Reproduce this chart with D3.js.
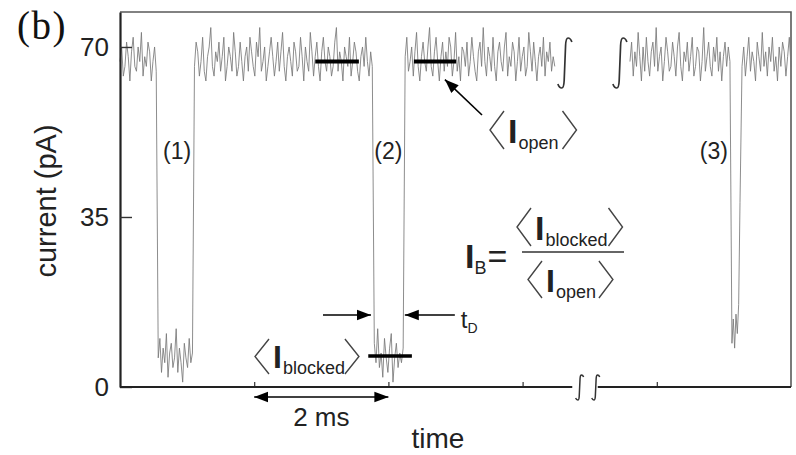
<!DOCTYPE html>
<html><head><meta charset="utf-8">
<script src="https://cdn.jsdelivr.net/npm/d3@7"></script>
<style>body{margin:0;background:#fff}svg{display:block}</style>
</head><body>
<svg id="chart" width="796" height="455"></svg>
<script>
// ---------- data ----------
const yTicks = [0, 35, 70];
const xTicks = [2, 4, 6, 8];            // ms
const yMax = 77.2;                      // pA
const tMax = 10;                        // ms
const openLevel = 67.0;                 // <I_open>
const blockedLevel = 6.4;               // <I_blocked>
const eventLabels = ["(1)", "(2)", "(3)"];
const eventLabelTimes = [0.85, 4.0, 8.85];
const eventLabelCurrent = 47;
// time spans [start, end] (ms) of the recorded trace pieces, before and after the break
const spansBefore = [[0.00, 0.54], [0.57, 1.08], [1.11, 3.76], [3.79, 4.22], [4.25, 6.48]];
const spansAfter = [[7.60, 9.09], [9.12, 9.24], [9.27, 10.0]];
const breakTimes = [6.63, 7.45];        // trace break marks
const axisBreak = [6.74, 7.12];         // x-axis gap
const axisBreakMarks = [6.85, 7.09];
const open1 = [67,70,64,66,71,68,63,69,72,66,65,70,67,73,64,68,66,71,69,63,67,70,65];
const blocked1 = [6,10,3,8,5,11,2,7,9,4,6,12,3,8,5,1,9,6,4,10,5,7];
const open2 = [66,71,69,64,67,72,65,63,68,70,74,66,64,69,67,71,65,68,72,63,
  66,70,68,65,73,69,64,66,71,67,63,68,70,65,72,69,66,64,71,68,
  74,65,67,70,63,66,69,72,68,64,67,71,65,69,73,66,63,68,70,67,
  64,71,69,65,66,72,68,63,70,67,65,73,69,64,68,71,66,63,69,72,
  67,65,70,68,64,66,71,74,65,69,67,63,70,68,66,72,64,67,71,69,
  65,63,68,70,66,72,67,64,69,66];
const blocked2 = [9,5,12,4,7,2,10,6,3,8,11,1,6,9,4,7,5,8];
const open3 = [68,72,65,67,70,64,69,73,66,63,68,71,67,65,70,74,66,64,69,72,
  67,63,68,71,65,69,66,72,70,64,67,73,65,68,63,70,69,66,71,64,
  67,72,68,65,63,69,71,66,74,67,64,70,68,65,72,66,63,69,71,67,
  65,70,73,64,68,66,71,69,63,67,72,65,68,70,64,66,73,69,65,71,
  67,63,68,70,66,72,64,69,67,71,65,68,66];
const open4 = [67,71,64,69,66,73,68,63,70,65,72,67,64,69,71,66,74,65,68,70,
  63,67,72,69,65,66,71,68,64,70,73,66,63,69,67,71,65,68,72,64,
  66,70,69,63,67,74,65,68,71,66,64,70,67,72,65,69,63,68,71,66,
  70,67];
const event3 = [9,14,8,15,11,17,38];
const open5 = [66,70,64,68,72,65,69,67,63,71,68,65,73,66,69,64,70,67,72,65,68,63,70,66,71,69,64,68,72,66];
const openBars = [[2.91, 3.56], [4.38, 5.01]];
const blockedBar = [3.70, 4.35];
const event2Span = [3.77, 4.23];
const scaleBar = [2, 4];

// ---------- drawing ----------
const svg = d3.select("#chart");
const font = "'Liberation Sans', Arial, Helvetica, sans-serif";
const x = d3.scaleLinear().domain([0, tMax]).range([120, 791]);
const y = d3.scaleLinear().domain([0, yMax]).range([387, 12]);

function build(spans, arrays) {
  const pts = [];
  spans.forEach(([a, b], k) => {
    const v = arrays[k], n = v.length;
    v.forEach((c, i) => pts.push([n > 1 ? a + (b - a) * i / (n - 1) : a, c]));
  });
  return pts;
}
const trace1 = build(spansBefore, [open1, blocked1, open2, blocked2, open3]);
const trace2 = build(spansAfter, [open4, event3, open5]);
const line = d3.line().x(d => x(d[0])).y(d => y(d[1]));

// frame (top + right)
svg.append("path").attr("d", `M${x(0)},${y(yMax)}H${x(tMax)}V${y(0)}`)
  .attr("fill", "none").attr("stroke", "#5a5a5a").attr("stroke-width", 1.6);

// traces
[trace1, trace2].forEach(tr => svg.append("path").attr("d", line(tr))
  .attr("fill", "none").attr("stroke", "#787878").attr("stroke-width", 0.85));

// y axis
const gy = svg.append("g").attr("transform", `translate(${x(0)},0)`)
  .call(d3.axisLeft(y).tickValues(yTicks).tickSize(-12).tickSizeOuter(0).tickPadding(11));
gy.select(".domain").attr("stroke", "#222").attr("stroke-width", 2.2);
gy.selectAll(".tick line").attr("stroke", "#333").attr("stroke-width", 1.4);
gy.selectAll(".tick text").attr("font-family", font).attr("font-size", 26).attr("fill", "#222");

// x axis
const gx = svg.append("g").attr("transform", `translate(0,${y(0)})`)
  .call(d3.axisBottom(x).tickValues(xTicks).tickSize(-5).tickSizeOuter(0).tickFormat(""));
gx.select(".domain").remove();
gx.selectAll(".tick line").attr("stroke", "#333").attr("stroke-width", 1.2);
[[0, axisBreak[0]], [axisBreak[1], tMax]].forEach(([a, b]) =>
  svg.append("line").attr("x1", x(a)).attr("x2", x(b)).attr("y1", y(0)).attr("y2", y(0))
    .attr("stroke", "#222").attr("stroke-width", 2.2));

function integral(cx, top, bot, w) {
  const h = bot - top;
  return `M${cx + w},${top + h * 0.08} Q${cx + w * 0.8},${top} ${cx + w * 0.45},${top}` +
    ` Q${cx + w * 0.15},${top} ${cx + w * 0.1},${top + h * 0.15}` +
    ` L${cx - w * 0.1},${bot - h * 0.15} Q${cx - w * 0.15},${bot} ${cx - w * 0.45},${bot}` +
    ` Q${cx - w * 0.8},${bot} ${cx - w},${bot - h * 0.08}`;
}
breakTimes.forEach(t => svg.append("path").attr("d", integral(x(t), 38, 88, 7))
  .attr("fill", "none").attr("stroke", "#333").attr("stroke-width", 1.7));
axisBreakMarks.forEach(t => svg.append("path").attr("d", integral(x(t), y(0) - 12, y(0) + 13, 4))
  .attr("fill", "none").attr("stroke", "#333").attr("stroke-width", 1.5));

// mean-level bars
openBars.forEach(([a, b]) => svg.append("line").attr("x1", x(a)).attr("x2", x(b))
  .attr("y1", y(openLevel)).attr("y2", y(openLevel)).attr("stroke", "#000").attr("stroke-width", 4));
svg.append("line").attr("x1", x(blockedBar[0])).attr("x2", x(blockedBar[1]))
  .attr("y1", y(blockedLevel)).attr("y2", y(blockedLevel)).attr("stroke", "#000").attr("stroke-width", 3.5);

// arrowheads
const defs = svg.append("defs");
defs.append("marker").attr("id", "ah").attr("viewBox", "0 0 10 10").attr("refX", 10).attr("refY", 5)
  .attr("markerWidth", 14).attr("markerHeight", 14).attr("markerUnits", "userSpaceOnUse")
  .attr("orient", "auto-start-reverse")
  .append("path").attr("d", "M0,1.2L10,5L0,8.8Z").attr("fill", "#000");

// event labels
eventLabels.forEach((s, i) => svg.append("text").text(s)
  .attr("x", x(eventLabelTimes[i])).attr("y", y(eventLabelCurrent))
  .attr("text-anchor", "middle").attr("font-family", font).attr("font-size", 23).attr("fill", "#222"));

// helper for <I_sub> labels
function bracketLabel(g, sub, xl, top, bot, iSize, subSize, gap) {
  const mid = (top + bot) / 2;
  g.append("path").attr("d", `M${xl + 14},${top}L${xl},${mid}L${xl + 14},${bot}`)
    .attr("fill", "none").attr("stroke", "#444").attr("stroke-width", 1.4);
  const t = g.append("text").attr("x", xl + 18).attr("y", bot - 6)
    .attr("font-family", font).attr("fill", "#222");
  t.append("tspan").text("I").attr("font-size", iSize).attr("font-weight", "bold");
  t.append("tspan").text(sub).attr("font-size", subSize).attr("dy", 6).attr("dx", 1);
  const w = t.node().getComputedTextLength();
  const xr = xl + 18 + w + gap;
  g.append("path").attr("d", `M${xr},${top}L${xr + 14},${mid}L${xr},${bot}`)
    .attr("fill", "none").attr("stroke", "#444").attr("stroke-width", 1.4);
  return xr + 14;
}

// <I_open> annotation
bracketLabel(svg.append("g"), "open", 490, 111, 149, 34, 18, 5);
svg.append("line").attr("x1", 482).attr("y1", 115).attr("x2", x(openBars[1][0]) + 31).attr("y2", y(openLevel) + 18)
  .attr("stroke", "#000").attr("stroke-width", 1.6).attr("marker-end", "url(#ah)");

// <I_blocked> annotation
bracketLabel(svg.append("g"), "blocked", 255, 339, 374, 32, 18, 1);

// formula I_B = <I_blocked>/<I_open>
const fT = svg.append("text").attr("x", 465).attr("y", 268).attr("font-family", font).attr("fill", "#222");
fT.append("tspan").text("I").attr("font-size", 34).attr("font-weight", "bold");
fT.append("tspan").text("B").attr("font-size", 18).attr("dy", 6);
fT.append("tspan").text("=").attr("font-size", 34).attr("dy", -6).attr("dx", 1);
svg.append("line").attr("x1", 522).attr("x2", 624).attr("y1", 252).attr("y2", 252)
  .attr("stroke", "#333").attr("stroke-width", 1.6);
bracketLabel(svg.append("g"), "blocked", 517, 208, 246, 34, 18, 2);
bracketLabel(svg.append("g"), "open", 528, 261, 298, 32, 18, 4);

// t_D arrows
const yD = 315;
svg.append("line").attr("x1", x(event2Span[0]) - 50).attr("x2", x(event2Span[0]) - 2)
  .attr("y1", yD).attr("y2", yD).attr("stroke", "#000").attr("stroke-width", 1.6).attr("marker-end", "url(#ah)");
svg.append("line").attr("x1", x(event2Span[1]) + 51).attr("x2", x(event2Span[1]) + 1)
  .attr("y1", yD).attr("y2", yD).attr("stroke", "#000").attr("stroke-width", 1.6).attr("marker-end", "url(#ah)");
const tD = svg.append("text").attr("x", x(event2Span[1]) + 57).attr("y", 328).attr("font-family", font).attr("fill", "#222");
tD.append("tspan").text("t").attr("font-size", 24);
tD.append("tspan").text("D").attr("font-size", 14).attr("dy", 5);

// 2 ms scale bar
svg.append("line").attr("x1", x(scaleBar[0])).attr("x2", x(scaleBar[1])).attr("y1", 397).attr("y2", 397)
  .attr("stroke", "#000").attr("stroke-width", 1.6)
  .attr("marker-start", "url(#ah)").attr("marker-end", "url(#ah)");
svg.append("text").text("2 ms").attr("x", x((scaleBar[0] + scaleBar[1]) / 2)).attr("y", 426)
  .attr("text-anchor", "middle").attr("font-family", font).attr("font-size", 26).attr("fill", "#222");

// axis titles
svg.append("text").text("time").attr("x", 438).attr("y", 448).attr("text-anchor", "middle")
  .attr("font-family", font).attr("font-size", 28).attr("fill", "#222");
svg.append("text").text("current (pA)").attr("transform", "translate(56,201) rotate(-90)")
  .attr("text-anchor", "middle").attr("font-family", font).attr("font-size", 29).attr("fill", "#222");
svg.append("text").text("(b)").attr("x", 17).attr("y", 39).attr("letter-spacing", 1.5)
  .attr("font-family", "'Liberation Serif', 'Times New Roman', serif").attr("font-size", 39).attr("fill", "#111");
</script>
</body></html>
